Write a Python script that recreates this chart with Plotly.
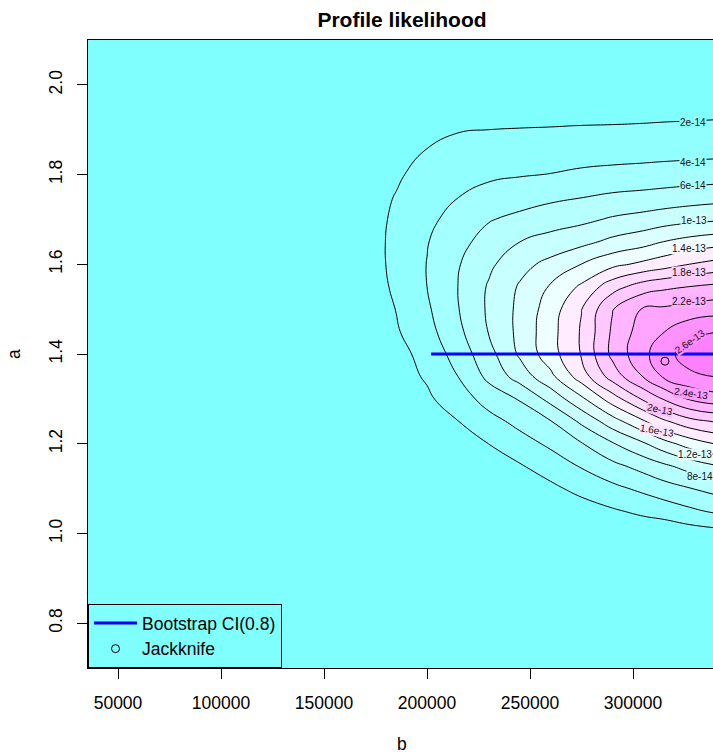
import colorsys
import numpy as np
import plotly.graph_objects as go

# ---- profile likelihood surface (z in units of 1e-14) ----
b_grid = [35000, 170000, 185000, 200000, 215000, 230000, 245000, 260000,
          275000, 290000, 305000, 315000, 327500, 340000]
a_grid = [0.70, 0.90, 1.00, 1.05, 1.10, 1.15, 1.20, 1.25, 1.30, 1.35, 1.40,
          1.45, 1.50, 1.55, 1.60, 1.65, 1.70, 1.75, 1.80, 1.85, 1.90, 1.95,
          2.00, 2.10]
z_rows = [
    [0, 0.02, 0.02, 0.03, 0.03, 0.05, 0.05, 0.05, 0.05, 0.05, 0.05, 0.05, 0.05, 0.05],
    [0, 0.05, 0.08, 0.12, 0.15, 0.15, 0.20, 0.20, 0.25, 0.25, 0.30, 0.30, 0.35, 0.40],
    [0, 0.12, 0.20, 0.30, 0.30, 0.30, 0.40, 0.35, 0.50, 0.35, 0.55, 0.55, 0.95, 1.24],
    [0, 0.16, 0.25, 0.40, 0.35, 0.40, 0.50, 0.60, 1.05, 1.77, 2.43, 2.87, 3.62, 4.31],
    [0, 0.22, 0.35, 0.55, 0.45, 0.50, 0.80, 1.56, 2.59, 3.50, 4.43, 5.15, 5.92, 6.65],
    [0, 0.29, 0.45, 0.75, 0.60, 0.74, 1.82, 2.93, 4.15, 5.45, 6.69, 7.61, 8.77, 9.82],
    [0, 0.38, 0.60, 1.00, 0.90, 2.02, 3.18, 4.37, 5.88, 7.82, 9.75, 11.24, 12.88, 14.07],
    [0, 0.50, 0.80, 1.30, 1.97, 3.30, 4.59, 5.92, 8.40, 11.13, 13.78, 15.68, 17.34, 18.18],
    [0, 0.63, 1.00, 1.70, 2.96, 4.82, 6.16, 8.65, 11.60, 15.03, 18.30, 20.17, 22.24, 23.16],
    [0, 0.78, 1.25, 2.20, 4.00, 6.50, 8.86, 11.51, 15.02, 18.90, 22.10, 24.30, 25.56, 26.05],
    [0, 0.95, 1.40, 2.60, 4.85, 7.30, 10.30, 13.15, 16.15, 20.50, 23.50, 25.20, 27.00, 27.40],
    [0, 1.12, 1.80, 3.30, 5.50, 8.10, 10.50, 13.30, 16.20, 20.30, 23.00, 23.95, 25.36, 25.95],
    [0, 1.25, 2.03, 3.70, 5.90, 8.30, 10.45, 13.00, 15.95, 19.90, 22.20, 22.30, 22.80, 23.15],
    [0, 1.35, 2.20, 4.00, 6.00, 8.20, 10.20, 12.20, 14.34, 17.18, 19.00, 19.60, 20.02, 20.44],
    [0, 1.40, 2.30, 4.05, 5.85, 7.60, 9.35, 10.58, 12.03, 13.47, 14.46, 15.12, 16.02, 16.66],
    [0, 1.40, 2.32, 3.90, 5.40, 6.75, 7.99, 8.74, 9.45, 10.49, 11.27, 12.04, 12.72, 13.19],
    [0, 1.35, 2.25, 3.55, 4.70, 5.87, 6.50, 7.10, 7.54, 8.24, 8.71, 9.09, 9.46, 9.74],
    [0, 1.25, 2.08, 3.15, 3.97, 4.69, 5.12, 5.59, 5.94, 6.34, 6.58, 6.78, 7.04, 7.26],
    [0, 1.07, 1.75, 2.65, 3.28, 3.66, 3.87, 4.05, 4.34, 4.54, 4.70, 4.82, 4.95, 5.05],
    [0, 0.85, 1.35, 2.10, 2.59, 2.82, 2.97, 3.07, 3.20, 3.27, 3.34, 3.41, 3.48, 3.55],
    [0, 0.62, 0.95, 1.50, 1.90, 2.00, 2.07, 2.12, 2.19, 2.22, 2.28, 2.31, 2.35, 2.40],
    [0, 0.40, 0.60, 0.90, 1.00, 1.05, 1.10, 1.15, 1.20, 1.25, 1.30, 1.40, 1.45, 1.50],
    [0, 0.22, 0.35, 0.50, 0.55, 0.60, 0.65, 0.70, 0.75, 0.80, 0.85, 0.90, 0.95, 1.00],
    [0, 0.07, 0.10, 0.15, 0.20, 0.25, 0.25, 0.30, 0.30, 0.30, 0.30, 0.30, 0.30, 0.30],
]
z_unit = 1e-14

# contour levels
level_start = 2e-14
level_end = 2.6e-13
level_step = 2e-14

# bootstrap interval for b at the fitted a, and the jackknife estimate
ci_b = [202000, 480000]
ci_a = [1.40, 1.40]
jack_b = [315500]
jack_a = [1.384]

# axis ticks
x_ticks = [50000, 100000, 150000, 200000, 250000, 300000]
y_ticks = [0.8, 1.0, 1.2, 1.4, 1.6, 1.8, 2.0]

# where each contour label is printed: (level, b, a, angle)
label_spots = [
    (2e-14, 329100, 1.915, 0), (4e-14, 329100, 1.828, 0),
    (6e-14, 329100, 1.775, 0), (1e-13, 329600, 1.697, 0),
    (1.4e-13, 327200, 1.636, 0), (1.8e-13, 327200, 1.581, 0),
    (2.2e-13, 327200, 1.518, 0), (2.6e-13, 327700, 1.427, -35),
    (2.4e-13, 328200, 1.311, 8), (2e-13, 313100, 1.277, 12),
    (1.6e-13, 311700, 1.230, 10), (1.2e-13, 330100, 1.177, 0),
    (8e-14, 332500, 1.128, 0),
]

FONT = "Liberation Sans, Arial, Helvetica, sans-serif"


def cm_colors(n):
    """Cyan-white-magenta palette, as R's cm.colors()."""
    even = n % 2 == 0
    k = n // 2
    l1 = k + 1 - int(even)
    l2 = n - k + int(even)
    out = []
    for s in np.linspace(0.5, 0.5 / k if even else 0.0, l1):
        out.append(colorsys.hsv_to_rgb(6 / 12, s, 1.0))
    for s in np.linspace(0.0, 0.5, l2)[1:]:
        out.append(colorsys.hsv_to_rgb(10 / 12, s, 1.0))
    return [tuple(int(round(c * 255)) for c in rgb) for rgb in out]


z = np.array(z_rows) * z_unit
n_levels = int(round((level_end - level_start) / level_step)) + 1
bands = cm_colors(n_levels + 1)
band_css = ["rgb(%d,%d,%d)" % c for c in bands]
colorscale = [[i / n_levels, band_css[i]] for i in range(n_levels + 1)]

fig = go.Figure()
fig.add_trace(go.Contour(
    x=b_grid, y=a_grid, z=z,
    colorscale=colorscale, showscale=False, autocontour=False,
    contours=dict(start=level_start, end=level_end, size=level_step,
                  coloring="fill", showlines=True),
    line=dict(color="black", width=1, smoothing=1.3),
    hoverinfo="skip", showlegend=False,
))
fig.add_trace(go.Scatter(
    x=ci_b, y=ci_a, mode="lines", name="Bootstrap CI(0.8)",
    line=dict(color="#0000FF", width=3),
))
fig.add_trace(go.Scatter(
    x=jack_b, y=jack_a, mode="markers", name="Jackknife",
    marker=dict(symbol="circle-open", size=8, color="black",
                line=dict(width=1, color="black")),
))

# contour labels, printed on a patch of the local fill so the line breaks
for lev, lb, la, ang in label_spots:
    k = int(round(lev / level_step))
    c0, c1 = bands[k - 1], bands[k]
    bg = "rgb(%d,%d,%d)" % tuple((p + q) // 2 for p, q in zip(c0, c1))
    fig.add_annotation(
        x=lb, y=la, xref="x", yref="y", text=f"{lev:.2g}", showarrow=False,
        textangle=ang, font=dict(family=FONT, size=10, color="#111111"),
        bgcolor=bg, borderpad=0,
    )

# axis titles
fig.add_annotation(x=0.5024, y=-0.121, xref="paper", yref="paper", text="b",
                   xanchor="center", yanchor="middle", showarrow=False,
                   font=dict(family=FONT, size=17.5, color="black"))
fig.add_annotation(x=-0.1184, y=0.5, xref="paper", yref="paper", text="a",
                   xanchor="center", yanchor="middle", textangle=-90,
                   showarrow=False,
                   font=dict(family=FONT, size=17.5, color="black"))

axis_common = dict(
    showgrid=False, zeroline=False, ticks="outside", ticklen=10, tickwidth=1,
    tickcolor="black", showline=True, linecolor="black", linewidth=1,
    tickfont=dict(family=FONT, size=17.5, color="black"),
)
fig.update_xaxes(range=[35438, 338816], tickvals=x_ticks,
                 ticktext=[str(v) for v in x_ticks], mirror=True,
                 ticklabelstandoff=9, **axis_common)
fig.update_yaxes(range=[0.7, 2.1], tickvals=y_ticks,
                 ticktext=[f"{v:.1f}" for v in y_ticks], tickangle=-90,
                 mirror=False, ticklabelstandoff=8, **axis_common)

fig.update_layout(
    width=713, height=756,
    margin=dict(l=88, r=0, t=40, b=88),
    paper_bgcolor="white", plot_bgcolor=band_css[0],
    title=dict(text="Profile likelihood", x=402 / 713, xref="container",
               xanchor="center", y=1 - 20 / 756, yref="container",
               yanchor="middle",
               font=dict(family=FONT, size=21, color="black", weight="bold")),
    legend=dict(x=0, y=0, xanchor="left", yanchor="bottom", itemwidth=43,
                bgcolor="rgba(0,0,0,0)", bordercolor="black", borderwidth=1,
                font=dict(family=FONT, size=17.5, color="black")),
    font=dict(family=FONT),
)

fig.write_html("out.html", config={"displayModeBar": False})
